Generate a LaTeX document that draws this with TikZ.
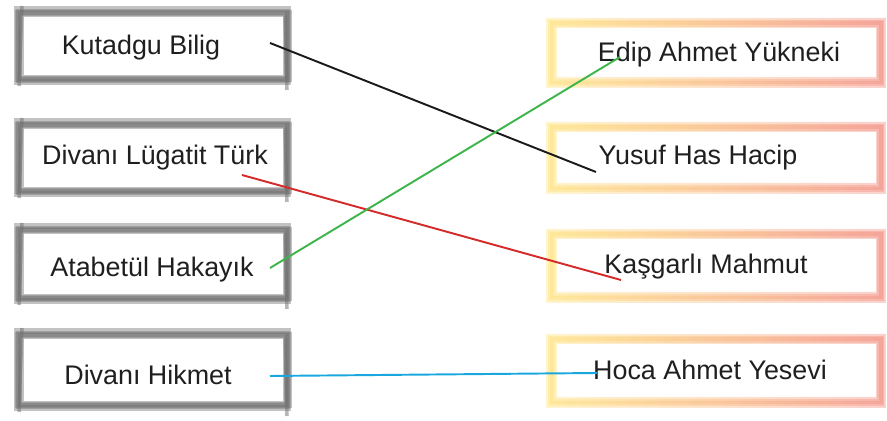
\documentclass[tikz,border=0pt]{standalone}
\usepackage{fontspec}
\setmainfont{Liberation Sans}
\usetikzlibrary{positioning}
\definecolor{inkgray}{HTML}{6E6E6E}
\definecolor{brushyellow}{HTML}{FFE27A}
\definecolor{brushred}{HTML}{F2887A}
\definecolor{linkblack}{HTML}{1A1A1A}
\definecolor{linkred}{HTML}{D42A2A}
\definecolor{linkgreen}{HTML}{3DB54A}
\definecolor{linkblue}{HTML}{1AA7E0}
\tikzset{
x=0.02cm, y=-0.02cm, % one unit is one pixel of the sketch
work/.style={font=\fontsize{15.3}{18}\selectfont, text=black!88}, % the names in the boxes
grayframe/.style={draw=inkgray, line width=3.2pt, opacity=0.42}, % brush strokes, left column
colorframe/.style={left color=brushyellow, right color=brushred, even odd rule, opacity=0.38}, % brush strokes, right column
link/.style={line width=1.1pt}, % the matching lines
}
\begin{document}
\begin{tikzpicture}
    \useasboundingbox (0,0) rectangle (887,421);

    % left frames
    \foreach \t/\b in {12/80, 124/192, 229/299, 334/406} {
        \foreach \dx/\dy/\ex/\ey in {0/0/0/0, -2/-3/1/2, 2/2/-1/-2, -1/1/2/-1} {
            \draw[grayframe] (19+\dx,\t+\dy) rectangle (287+\ex,\b+\ey);
        }
        \draw[inkgray, line width=2pt, opacity=0.5] (22,\t-6) -- (19,\b+6);
        \draw[inkgray, line width=2pt, opacity=0.5] (285,\t+4) -- (287,\b+10);
    }

    % right frames
    \foreach \t/\b in {20/86, 124/192, 231/301, 336/406} {
        \foreach \dx/\dy/\ex/\ey in {0/0/0/0, -2/-2/2/2, 2/1/-1/-2} {
            \shade[colorframe] (548+\dx,\t+\dy) rectangle (884+\ex,\b+\ey)
                (555+\dx,\t+\dy+7) rectangle (877+\ex,\b+\ey-7);
        }
    }

    \node[work] (kutadgu) at (141,48) {Kutadgu Bilig};
    \node[work] (divanilugat) at (155,158) {Divanı Lügatit Türk};
    \node[work] (atabet) at (152,270) {Atabetül Hakayık};
    \node[work] (divanihikmet) at (148,375) {Divanı Hikmet};

    \node[work] (edip) at (719,55) {Edip Ahmet Yükneki};
    \node[work] (yusuf) at (698,158) {Yusuf Has Hacip};
    \node[work] (kasgarli) at (706,267) {Kaşgarlı Mahmut};
    \node[work] (hoca) at (710,370) {Hoca Ahmet Yesevi};

    % ends of the lines
    \coordinate (kutadgu-end) at (270,43);
    \coordinate (yusuf-end) at (596,172);
    \coordinate (divanilugat-end) at (242,175);
    \coordinate (kasgarli-end) at (621,280);
    \coordinate (atabet-end) at (270,268);
    \coordinate (edip-end) at (620,57);
    \coordinate (divanihikmet-end) at (270,376);
    \coordinate (hoca-end) at (597,373);

    \draw[link, linkblack] (kutadgu-end) -- (yusuf-end);
    \draw[link, linkred] (divanilugat-end) -- (kasgarli-end);
    \draw[link, linkgreen] (atabet-end) -- (edip-end);
    \draw[link, linkblue] (divanihikmet-end) -- (hoca-end);
\end{tikzpicture}
\end{document}
